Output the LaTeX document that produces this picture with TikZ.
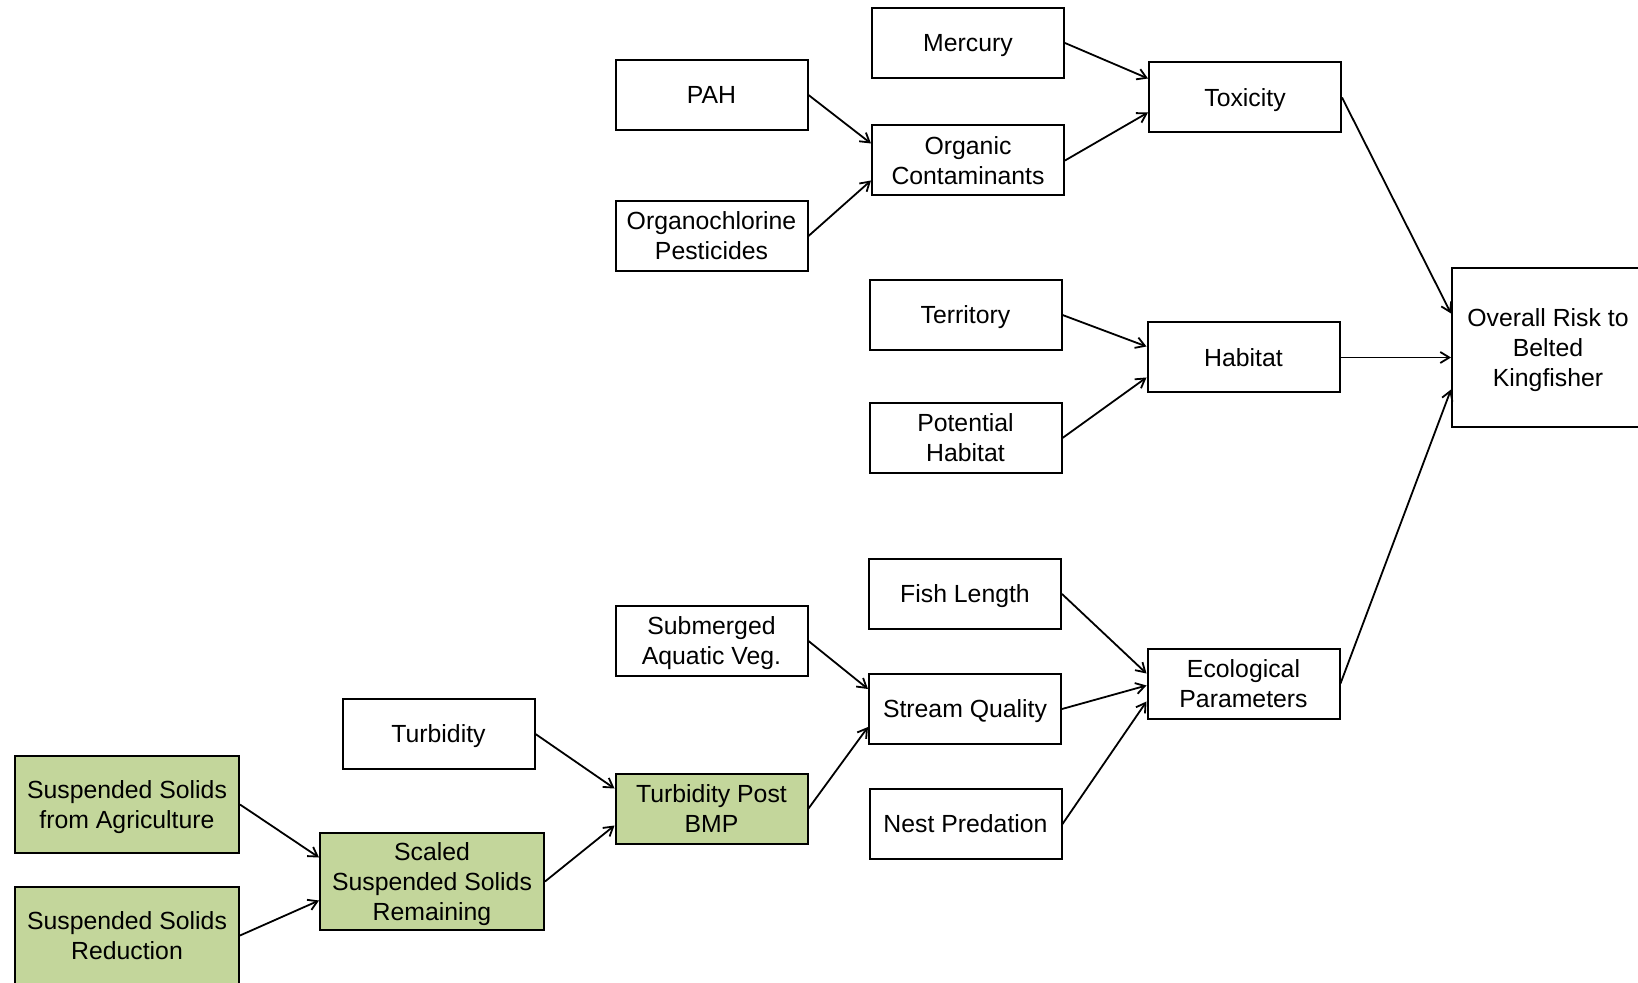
\documentclass[tikz,border=0pt]{standalone}
\usepackage{fontspec}
\setmainfont{Liberation Sans}
\usetikzlibrary{arrows.meta}
\definecolor{bmpgreen}{HTML}{C3D69B}
\tikzset{
	box/.style={draw, line width=1pt, minimum width=96pt, minimum height=35pt, inner sep=1pt, text depth=0pt, align=center, font=\fontsize{12.4}{15}\selectfont},
	gbox/.style={box, fill=bmpgreen, minimum width=112pt, minimum height=48.5pt},
	link/.style={-{Straight Barb[length=4.5pt,width=5.5pt]}, line width=0.9pt}
}
\begin{document}
\begin{tikzpicture}[x=0.5pt,y=-0.5pt]
		\useasboundingbox (0,0) rectangle (1638,983);
		\node[box] (mercury) at (968,43) {Mercury};
		\node[box] (pah) at (711.5,95) {PAH};
		\node[box] (organic) at (968,160.5) {Organic\\Contaminants};
		\node[box] (organo) at (711.5,236) {Organochlorine\\Pesticides};
		\node[box] (toxicity) at (1245,97.5) {Toxicity};
		\node[box] (territory) at (965.5,315) {Territory};
		\node[box] (potential) at (965.5,438) {Potential\\Habitat};
		\node[box] (habitat) at (1243.5,357.5) {Habitat};
		\node[box, minimum height=79.5pt] (overall) at (1548,347.5) {Overall Risk to\\Belted\\Kingfisher};
		\node[box] (fish) at (965,594) {Fish Length};
		\node[box] (submerged) at (711.5,641) {Submerged\\Aquatic Veg.};
		\node[box] (stream) at (965,709) {Stream Quality};
		\node[box] (eco) at (1243.5,683.5) {Ecological\\Parameters};
		\node[box] (nest) at (965.5,824) {Nest Predation};
		\node[box] (turbidity) at (438.5,734) {Turbidity};
		\node[box, fill=bmpgreen] (tpb) at (711.5,808.5) {Turbidity Post\\BMP};
		\node[gbox] (ssagri) at (127,804.5) {Suspended Solids\\from Agriculture};
		\node[gbox] (scaled) at (432,881.5) {Scaled\\Suspended Solids\\Remaining};
		\node[gbox] (ssred) at (127,935.5) {Suspended Solids\\Reduction};
		% contaminants
		\draw[link] (mercury.east) -- ([yshift=9.5pt]toxicity.west);
		\draw[link] (organic.east) -- ([yshift=-7.5pt]toxicity.west);
		\draw[link] (pah.east) -- ([yshift=8.5pt]organic.west);
		\draw[link] (organo.east) -- ([yshift=-10pt]organic.west);
		% habitat
		\draw[link] (territory.east) -- ([yshift=5.5pt]habitat.west);
		\draw[link] (potential.east) -- ([yshift=-10pt]habitat.west);
		% ecology
		\draw[link] (fish.east) -- ([yshift=5pt]eco.west);
		\draw[link] (stream.east) -- ([yshift=-1pt]eco.west);
		\draw[link] (nest.east) -- ([yshift=-9pt]eco.west);
		\draw[link] (submerged.east) -- ([yshift=10pt]stream.west);
		\draw[link] (tpb.east) -- ([yshift=-9pt]stream.west);
		\draw[link] (turbidity.east) -- ([yshift=10pt]tpb.west);
		\draw[link] (scaled.east) -- ([yshift=-8.5pt]tpb.west);
		\draw[link] (ssagri.east) -- ([yshift=12pt]scaled.west);
		\draw[link] (ssred.east) -- ([yshift=-9.5pt]scaled.west);
		% overall risk
		\draw[link] (toxicity.east) -- ([yshift=17pt]overall.west);
		\draw[link] (habitat.east) -- (habitat.east -| overall.west);
		\draw[link] (eco.east) -- ([yshift=-21pt]overall.west);
	\end{tikzpicture}
\end{document}
